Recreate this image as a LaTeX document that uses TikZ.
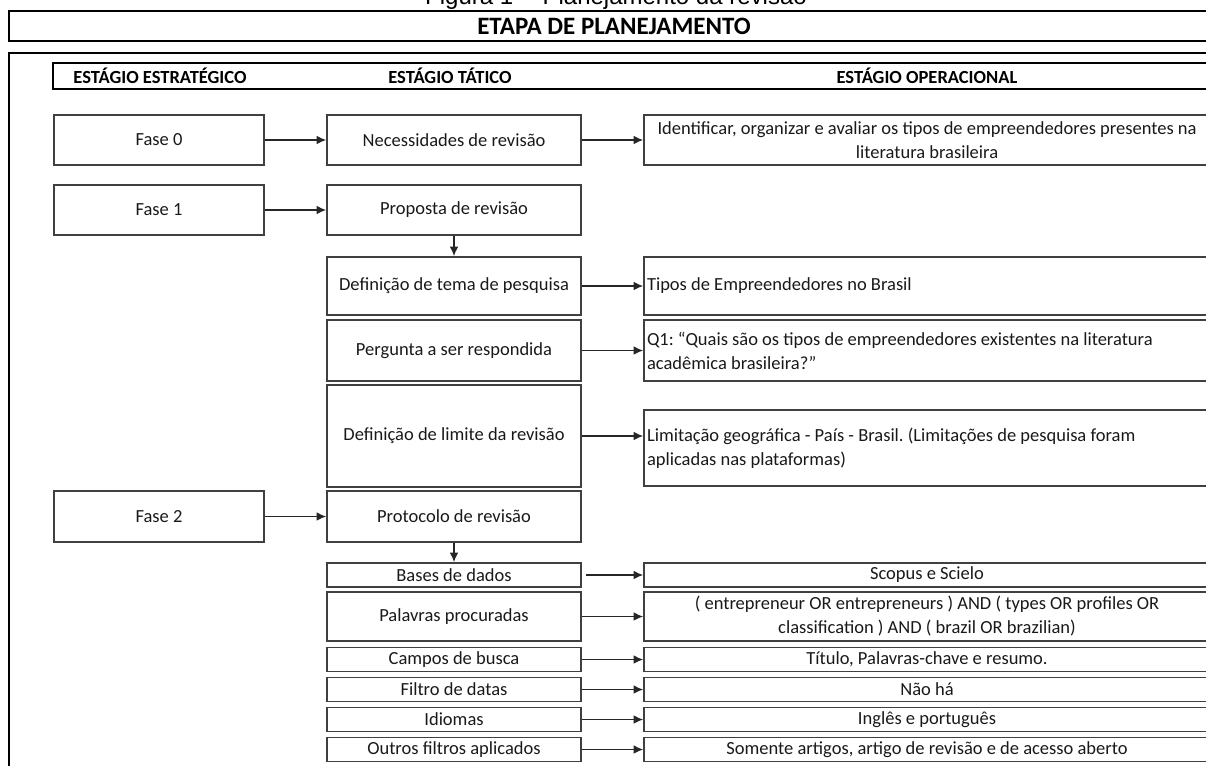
\documentclass[tikz,border=0pt]{standalone}
\usepackage{fontspec}
\setmainfont{Carlito}
\newfontfamily\captionfont{Liberation Sans}
\usetikzlibrary{positioning, arrows.meta}
\frenchspacing
\newcommand\bodyfont{\fontsize{18.5}{24}\selectfont}
\newcommand\headfont{\fontsize{18.5}{24}\selectfont\bfseries}
\tikzset{
x=1pt, y=-1pt, % one unit is one pixel of the reference, y runs downwards
>={Latex[length=9.5pt,width=8.5pt]}, % filled arrow heads
frame/.style={draw=black, line width=2.4pt}, % the heavy outer frames
box/.style={draw=black!75, line width=1.6pt, inner sep=0pt, font=\bodyfont, text=black!90, align=center}, % every plain box
stratbox/.style={box, minimum width=210, minimum height=50}, % strategic column
tactbox/.style={box, minimum width=254}, % tactical column
rowbox/.style={tactbox, minimum height=24}, % small tactical rows
opbox/.style={box, minimum width=566}, % operational column
opleft/.style={opbox, inner xsep=3pt, text width=560, align=flush left}, % left aligned operational text
link/.style={->, line width=1.3pt, black!85}, % connectors
}

\begin{document}
\begin{tikzpicture}
\useasboundingbox (0,0) rectangle (1206,765);
% caption, cut by the top edge
\node[anchor=base, font=\captionfont\fontsize{24}{28}\selectfont] (cap) at (616,5) {Figura 1 -- Planejamento da revisão};
% frames
\draw[frame] (9,11) rectangle (1215,41);
\node[font=\fontsize{25}{28}\selectfont\bfseries] (title) at (614,26) {ETAPA DE PLANEJAMENTO};
\draw[frame] (9,53) rectangle (1215,790);
\draw[frame, line width=2.2pt] (53,63) rectangle (1215,89);
\node[font=\headfont] (hs) at (160,76) {ESTÁGIO ESTRATÉGICO};
\node[font=\headfont] (ht) at (450,76) {ESTÁGIO TÁTICO};
\node[font=\headfont] (ho) at (927,76) {ESTÁGIO OPERACIONAL};
% strategic stage
\node[stratbox] (f0) at (159,140) {Fase 0};
\node[stratbox] (f1) at (159,210) {Fase 1};
\node[stratbox, minimum height=51] (f2) at (159,516.5) {Fase 2};
% tactical stage
\node[tactbox, minimum height=50] (nec) at (454,140) {Necessidades de revisão};
\node[tactbox, minimum height=50] (prop) at (454,210) {Proposta de revisão};
\node[tactbox, minimum height=58] (tema) at (454,286) {Definição de tema de pesquisa};
\node[tactbox, minimum height=61] (perg) at (454,350.5) {Pergunta a ser respondida};
\node[tactbox, minimum height=102] (lim) at (454,436) {Definição de limite da revisão};
\node[tactbox, minimum height=51] (prot) at (454,516.5) {Protocolo de revisão};
\node[rowbox] (bases) at (454,575) {Bases de dados};
\node[rowbox, minimum height=49] (pal) at (454,616.5) {Palavras procuradas};
\node[rowbox] (camp) at (454,659.5) {Campos de busca};
\node[rowbox] (filt) at (454,689.5) {Filtro de datas};
\node[rowbox] (idio) at (454,719.5) {Idiomas};
\node[rowbox] (outr) at (454,749.5) {Outros filtros aplicados};
% operational stage
\node[opbox, minimum height=50] (o0) at (927,140) {Identificar, organizar e avaliar os tipos de empreendedores presentes na\\literatura brasileira};
\node[opleft, minimum height=58] (otema) at (927,286) {Tipos de Empreendedores no Brasil};
\node[opleft, minimum height=61] (operg) at (927,350.5) {Q1: “Quais são os tipos de empreendedores existentes na literatura\\acadêmica brasileira?”};
\node[opleft, minimum height=76] (olim) at (927,448) {Limitação geográfica - País - Brasil. (Limitações de pesquisa foram\\aplicadas nas plataformas)};
\node[opbox, minimum height=24] (obases) at (927,575) {Scopus e Scielo};
\node[opbox, minimum height=49] (opal) at (927,616.5) {( entrepreneur OR entrepreneurs ) AND ( types OR profiles OR\\classification ) AND ( brazil OR brazilian)};
\node[opbox, minimum height=24] (ocamp) at (927,659.5) {Título, Palavras-chave e resumo.};
\node[opbox, minimum height=24] (ofilt) at (927,689.5) {Não há};
\node[opbox, minimum height=24] (oidio) at (927,719.5) {Inglês e português};
\node[opbox, minimum height=24] (ooutr) at (927,749.5) {Somente artigos, artigo de revisão e de acesso aberto};
% connectors
\draw[link] (f0) -- (nec);
\draw[link] (nec) -- (o0);
\draw[link] (f1) -- (prop);
\draw[link] (prop) -- (tema);
\draw[link] (tema) -- (otema);
\draw[link] (perg) -- (operg);
\draw[link] (lim.east) -- (lim.east -| olim.west);
\draw[link] (f2) -- (prot);
\draw[link] (prot.south) -- (prot.south |- bases.north);
\draw[link, shorten <=4pt] (bases) -- (obases);
\foreach \a/\b in {pal/opal, camp/ocamp, filt/ofilt, idio/oidio, outr/ooutr}
  \draw[link] (\a) -- (\b);
\end{tikzpicture}
\end{document}
